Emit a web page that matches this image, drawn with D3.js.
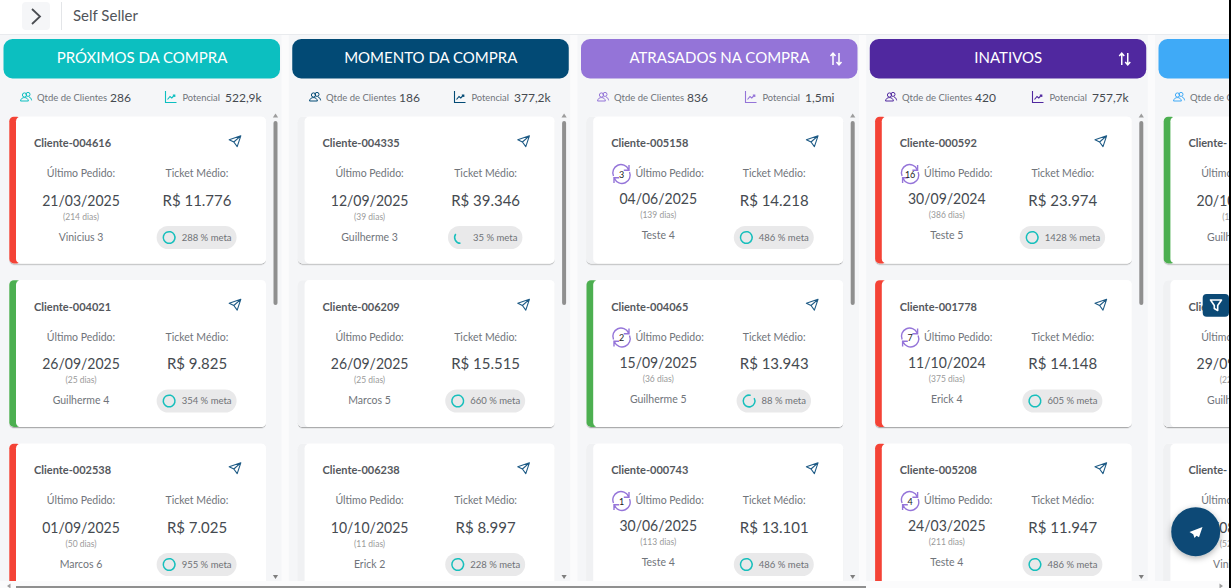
<!DOCTYPE html>
<html>
<head>
<meta charset="utf-8">
<script src="https://d3js.org/d3.v7.min.js"></script>
<style>
  html, body { margin: 0; padding: 0; background: #000; overflow: hidden; }
  svg { display: block; font-family: Lato, "Open Sans", sans-serif; }
</style>
</head>
<body>
<svg id="board" width="1231" height="588"></svg>
<script>
// Board data, one entry per column
var columnTitles = ["PRÓXIMOS DA COMPRA", "MOMENTO DA COMPRA", "ATRASADOS NA COMPRA", "INATIVOS", ""];
var columnColors = ["#0cbfc0", "#024a75", "#9474d8", "#50289f", "#3faaf7"];
var columnCounts = ["286", "186", "836", "420", ""];
var columnPotential = ["522,9k", "377,2k", "1,5mi", "757,7k", ""];
var columnSortable = [false, false, true, true, false];

// Cards, one row of three per column
var clientNames = [
  ["Cliente-004616", "Cliente-004021", "Cliente-002538"],
  ["Cliente-004335", "Cliente-006209", "Cliente-006238"],
  ["Cliente-005158", "Cliente-004065", "Cliente-000743"],
  ["Cliente-000592", "Cliente-001778", "Cliente-005208"],
  ["Cliente-", "Cliente-", "Cliente-"]
];
var lastOrderDates = [
  ["21/03/2025", "26/09/2025", "01/09/2025"],
  ["12/09/2025", "26/09/2025", "10/10/2025"],
  ["04/06/2025", "15/09/2025", "30/06/2025"],
  ["30/09/2024", "11/10/2024", "24/03/2025"],
  ["20/10/2025", "29/09/2025", "30/08/2025"]
];
var daysAgo = [
  [214, 25, 50],
  [39, 25, 11],
  [139, 36, 113],
  [386, 375, 211],
  [1, 22, 52]
];
var ticketValues = [
  ["11.776", "9.825", "7.025"],
  ["39.346", "15.515", "8.997"],
  ["14.218", "13.943", "13.101"],
  ["23.974", "14.148", "11.947"],
  [null, null, null]
];
var sellerNames = [
  ["Vinicius 3", "Guilherme 4", "Marcos 6"],
  ["Guilherme 3", "Marcos 5", "Erick 2"],
  ["Teste 4", "Guilherme 5", "Teste 4"],
  ["Teste 5", "Erick 4", "Teste 4"],
  ["Guilherme 4", "Guilherme 5", "Vinicius 3"]
];
var goalPercents = [
  [288, 354, 955],
  [35, 660, 228],
  [486, 88, 486],
  [1428, 605, 486],
  [null, null, null]
];
var recurrences = [
  [null, null, null],
  [null, null, null],
  [3, 2, 1],
  [16, 7, 4],
  [null, null, null]
];
var cardStatus = [
  ["late", "ok", "late"],
  ["none", "none", "none"],
  ["none", "ok", "none"],
  ["late", "late", "late"],
  ["ok", "none", "none"]
];

var statusColors = { late: "#f44336", ok: "#4caf50", none: "#f0f1f3" };
var textDark = "#454a50", textMid = "#70747a", textSoft = "#9a9a9a";
var teal = "#17bfbc", navy = "#0c4a76", purple = "#9575d9";

// Scales for columns, cards and the goal ring
var headerX = d3.scaleLinear().domain([0, 4]).range([3.5, 1158.5]);
var cardX = d3.scaleLinear().domain([0, 4]).range([9.3, 1163.7]);
var cardY = d3.scaleLinear().domain([0, 2]).range([116.7, 443.7]);
var ringAngle = d3.scaleLinear().domain([0, 100]).range([0, 2 * Math.PI]).clamp(true);
var ringArc = d3.arc().innerRadius(5.1).outerRadius(6.6);

var cardW = 256.6, cardH = 146.7, headerW = 276.5;
var statUsersX = [20, 309, 597, 885, 1173];
var statChartX = [165, 454, 745, 1032, null];

var svg = d3.select("#board");

var defs = svg.append("defs");
var shadow = defs.append("filter").attr("id", "cardShadow")
  .attr("x", "-5%").attr("y", "-5%").attr("width", "110%").attr("height", "112%");
shadow.append("feDropShadow").attr("dx", 0).attr("dy", 1.2).attr("stdDeviation", 0.7)
  .attr("flood-color", "#000").attr("flood-opacity", 0.3);
var fabShadow = defs.append("filter").attr("id", "fabShadow")
  .attr("x", "-30%").attr("y", "-30%").attr("width", "160%").attr("height", "160%");
fabShadow.append("feDropShadow").attr("dx", 0).attr("dy", 2).attr("stdDeviation", 3)
  .attr("flood-color", "#000").attr("flood-opacity", 0.3);
defs.append("clipPath").attr("id", "boardClip").append("rect")
  .attr("width", 1229).attr("height", 581);

// Page background
svg.append("rect").attr("width", 1229).attr("height", 588).attr("fill", "#fbfbfc");

var board = svg.append("g").attr("clip-path", "url(#boardClip)");

function txt(g, x, y, str, size, color, anchor, weight) {
  return g.append("text")
    .attr("x", x).attr("y", y)
    .attr("dy", "0.35em")
    .attr("font-size", size)
    .attr("fill", color)
    .attr("text-anchor", anchor || "start")
    .attr("font-weight", weight || 400)
    .text(str);
}

// Lato digits run wider than the reference font, so tighten the big numbers
function squeeze(sel, ratio) {
  var len = sel.node().getComputedTextLength();
  sel.attr("textLength", len * ratio).attr("lengthAdjust", "spacingAndGlyphs");
  return sel;
}

function usersIcon(g, x, y, color) {
  var ic = g.append("g").attr("transform", "translate(" + x + "," + y + ")")
    .attr("fill", "none").attr("stroke", color).attr("stroke-width", 1);
  ic.append("circle").attr("cx", 4.5).attr("cy", -2).attr("r", 2.1);
  ic.append("circle").attr("cx", 8).attr("cy", -2.6).attr("r", 2);
  ic.append("path").attr("d", "M0.5,4 C1,1 3,0.6 4.6,0.6 C6.5,0.6 8,1.6 8.4,4 Z");
  ic.append("path").attr("d", "M9,0 C10.5,0.3 11.3,1.5 11.6,3.4");
}

function chartIcon(g, x, y, color) {
  var ic = g.append("g").attr("transform", "translate(" + x + "," + y + ")")
    .attr("fill", "none").attr("stroke", color).attr("stroke-width", 1.1);
  ic.append("path").attr("d", "M0.5,-6 V5.5 H11.5");
  ic.append("path").attr("d", "M2.5,2.5 L5,-0.5 L6.8,1 L9.6,-2 M7.8,-2 H9.8 V0");
}

function sendIcon(g, x, y) {
  g.append("path")
    .attr("transform", "translate(" + x + "," + y + ")")
    .attr("d", "M5.8,-5.4 L-5.8,-1.4 L-1.2,0.8 L2.2,5.4 Z M5.8,-5.4 L-1.2,0.8")
    .attr("fill", "none").attr("stroke", "#1d5a85").attr("stroke-width", 1.1)
    .attr("stroke-linejoin", "round");
}

function recurrenceIcon(g, x, y, n) {
  var ic = g.append("g").attr("transform", "translate(" + x + "," + y + ")");
  ic.append("path")
    .attr("d", "M-8,2 A8,8 0 0 1 7,-4.5 M7.5,-9 V-3.8 H2.3 M8,-2 A8,8 0 0 1 -7,4.5 M-7.5,9 V3.8 H-2.3")
    .attr("fill", "none").attr("stroke", purple).attr("stroke-width", 1.4);
  txt(ic, 0, 0.5, n, 9, "#222", "middle");
}

// Columns
columnTitles.forEach(function (title, c) {
  var hx = headerX(c);
  var col = board.append("g");
  col.append("rect").attr("x", hx - 3.5).attr("y", 35).attr("width", 281.5).attr("height", 546)
    .attr("fill", "#f5f6f8");
  col.append("rect").attr("x", hx).attr("y", 39).attr("width", headerW).attr("height", 39.5)
    .attr("rx", 9).attr("fill", columnColors[c]);

  txt(col, hx + 138.5, 58, title, 15, "#fff", "middle");

  if (columnSortable[c]) {
    col.append("path")
      .attr("transform", "translate(" + (hx + 255) + ",59)")
      .attr("d", "M-3,6 V-5.5 M-5.5,-3 L-3,-5.8 L-0.5,-3 M3,-6 V5.5 M0.5,3 L3,5.8 L5.5,3")
      .attr("fill", "none").attr("stroke", "#fff").attr("stroke-width", 1.5);
  }

  // Stats row under the header
  usersIcon(col, statUsersX[c], 97, columnColors[c]);
  txt(col, statUsersX[c] + 17, 97.5, "Qtde de Clientes", 9.5, textMid);
  if (columnCounts[c]) {
    txt(col, statUsersX[c] + 90, 97.5, columnCounts[c], 12, textDark);
    chartIcon(col, statChartX[c], 97, columnColors[c]);
    txt(col, statChartX[c] + 17.5, 97.5, "Potencial", 9.3, textMid);
    txt(col, statChartX[c] + 60, 97.5, columnPotential[c], 12, textDark);
  }

  // Scrollbar of the column
  if (c < 4) {
    var sx = cardX(c) + 266.2;
    col.append("rect").attr("x", sx - 2).attr("y", 121).attr("width", 4).attr("height", 184)
      .attr("rx", 2).attr("fill", "#8f8f8f");
    col.append("path").attr("transform", "translate(" + sx + ",115.5)")
      .attr("d", "M-2.6,2 L0,-2 L2.6,2 Z").attr("fill", "#9c9c9c");
    col.append("path").attr("transform", "translate(" + sx + ",577)")
      .attr("d", "M-2.6,-2 L0,2 L2.6,-2 Z").attr("fill", "#7e7e7e");
  }

  // Cards
  clientNames[c].forEach(function (name, r) {
    var L = cardX(c), T = cardY(r);
    var card = col.append("g");
    card.append("rect").attr("x", L).attr("y", T).attr("width", cardW).attr("height", cardH)
      .attr("rx", 4.5).attr("fill", "#fff")
      .attr("filter", "url(#cardShadow)");
    card.append("rect").attr("x", L).attr("y", T).attr("width", 12).attr("height", cardH)
      .attr("rx", 4.5).attr("fill", statusColors[cardStatus[c][r]]);
    card.append("rect").attr("x", L + 6.7).attr("y", T).attr("width", cardW - 6.7).attr("height", cardH)
      .attr("rx", 4.5).attr("fill", "#fff");

    txt(card, L + 24.7, T + 26.5, name, 11, "#55585d", "start", 700);
    sendIcon(card, L + 225.7, T + 24.5);

    var rec = recurrences[c][r];
    var dateShift = rec === null ? 0 : -1.5;
    if (rec === null) {
      txt(card, L + 71.7, T + 57, "Último Pedido:", 10.5, textMid, "middle");
    } else {
      recurrenceIcon(card, L + 35, T + 57.3, rec);
      txt(card, L + 49, T + 57, "Último Pedido:", 10.5, textMid);
    }
    txt(card, L + 187.7, T + 57, "Ticket Médio:", 10.5, textMid, "middle");

    squeeze(txt(card, L + 71.7, T + 83.5 + dateShift, lastOrderDates[c][r], 16, textDark, "middle"), 0.875);
    txt(card, L + 71.7, T + 100 + dateShift, "(" + daysAgo[c][r] + " dias)", 8.5, textSoft, "middle");
    txt(card, L + 71.7, T + 120.5 + dateShift, sellerNames[c][r], 10.5, textMid, "middle");

    if (ticketValues[c][r] !== null) {
      squeeze(txt(card, L + 187.7, T + 83.5, "R$ " + ticketValues[c][r], 16, textDark, "middle"), 0.936);
    }

    // Goal pill with its progress ring
    var pct = goalPercents[c][r];
    if (pct !== null) {
      var pill = card.append("g");
      var bg = pill.append("rect").attr("y", T + 109.3).attr("height", 23).attr("rx", 11.5).attr("fill", "#e9e9ea");
      var label = txt(pill, 0, T + 120.8, pct + " % meta", 9.5, "#6f7276");
      var w = label.node().getComputedTextLength() + 30;
      var px = L + 187.3 - w / 2;
      bg.attr("x", px).attr("width", w);
      label.attr("x", px + 25);
      var ringStart = pct === 35 ? Math.PI : Math.PI / 3;
      pill.append("path")
        .attr("transform", "translate(" + (px + 12.5) + "," + (T + 120.8) + ")")
        .attr("d", ringArc({ startAngle: ringStart, endAngle: ringStart + ringAngle(pct) }))
        .attr("fill", teal);
    }
  });
});

// Floating filter button
svg.append("rect").attr("x", 1202.7).attr("y", 294).attr("width", 26.3).attr("height", 22.7)
  .attr("rx", 4).attr("fill", navy).attr("clip-path", "url(#boardClip)");
svg.append("path").attr("transform", "translate(1216,305)")
  .attr("d", "M-5.5,-5 H5.5 L1.7,0.5 V5.5 L-1.7,3.5 V0.5 Z")
  .attr("fill", "none").attr("stroke", "#fff").attr("stroke-width", 1.6).attr("stroke-linejoin", "round");

// Floating send button
svg.append("circle").attr("cx", 1195.7).attr("cy", 531.7).attr("r", 24.5)
  .attr("fill", navy).attr("filter", "url(#fabShadow)");
svg.append("path").attr("transform", "translate(1196,533)")
  .attr("d", "M6.5,-6 L-6.5,-1 L-2.8,1.2 L-1.5,5 L0.5,2.8 L3,4.2 Z").attr("fill", "#fff");

// Top bar
svg.append("rect").attr("width", 1229).attr("height", 34).attr("fill", "#fff");
svg.append("line").attr("x1", 0).attr("x2", 1229).attr("y1", 34.5).attr("y2", 34.5).attr("stroke", "#e9ebee");
svg.append("rect").attr("x", 22).attr("y", 2).attr("width", 28).attr("height", 28).attr("rx", 4).attr("fill", "#f5f6f8");
svg.append("path").attr("d", "M32,9 L40,16.5 L32,24").attr("fill", "none").attr("stroke", "#4a4d52").attr("stroke-width", 1.8);
svg.append("line").attr("x1", 61.5).attr("x2", 61.5).attr("y1", 2).attr("y2", 30).attr("stroke", "#e3e5e8");
txt(svg, 73, 16, "Self Seller", 15, "#50545a");

// Horizontal scrollbar at the bottom of the page
svg.append("rect").attr("x", 16).attr("y", 586).attr("width", 850).attr("height", 2).attr("fill", "#8f8f8f");
svg.append("path").attr("transform", "translate(9,586)").attr("d", "M-2,0 L1.5,-2.5 L1.5,2.5 Z").attr("fill", "#9c9c9c");
svg.append("path").attr("transform", "translate(1221,586)").attr("d", "M2,0 L-1.5,-2.5 L-1.5,2.5 Z").attr("fill", "#9c9c9c");
</script>
</body>
</html>
